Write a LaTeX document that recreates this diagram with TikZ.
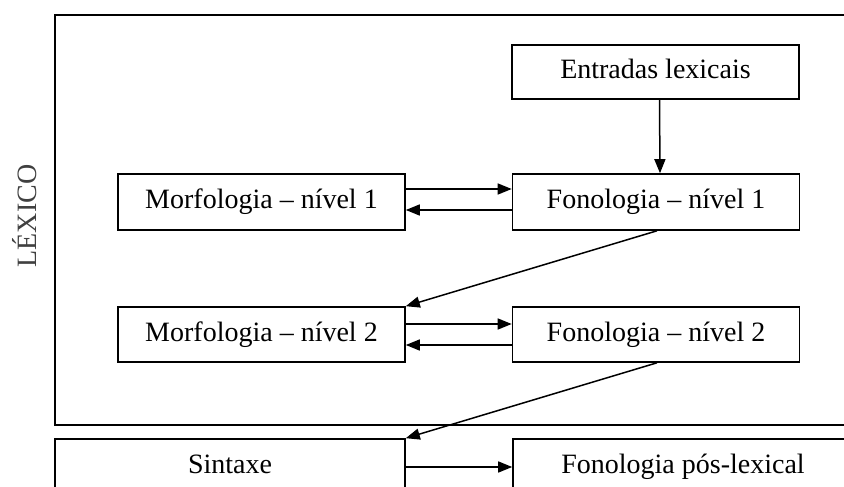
\documentclass[tikz,border=0pt]{standalone}
\usepackage{fontspec}
\setmainfont{Liberation Serif}
\usetikzlibrary{arrows.meta}
\begin{document}
\begin{tikzpicture}[x=1pt,y=-1pt,
  box/.style={draw, line width=1.6pt, minimum width=287pt, minimum height=56pt,
    inner sep=0pt, text height=19pt, text depth=6pt,
    font=\fontsize{28}{32}\selectfont},
  link/.style={line width=1.5pt, -{Triangle[length=14pt,width=11pt]}}]
\useasboundingbox (0,0) rectangle (844,487);
\clip (0,0) rectangle (844,487);
\fill[white] (0,0) rectangle (844,487);

% lexical component frame
\draw[line width=1.6pt] (870,15) -- (55,15) -- (55,425) -- (870,425);
\node[rotate=90, text=black!75, font=\fontsize{28}{32}\selectfont] (lex) at (25,216) {LÉXICO};

% boxes
\node[box, minimum height=54pt] (ent) at (655.5,72) {Entradas lexicais};
\node[box] (m1) at (261.5,202) {Morfologia – nível 1};
\node[box] (f1) at (656,202) {Fonologia – nível 1};
\node[box, minimum height=55pt] (m2) at (261.5,334.5) {Morfologia – nível 2};
\node[box, minimum height=55pt] (f2) at (656,334.5) {Fonologia – nível 2};
\node[box, minimum width=350pt] (sin) at (230,467) {Sintaxe};
\node[box, minimum width=340pt] (pos) at (683,467) {Fonologia pós-lexical};

% connectors
\draw[link] ([xshift=4pt]ent.south) -- ([xshift=4pt]f1.north);
\draw[link] ([yshift=13pt]m1.east) -- ([yshift=13pt]f1.west);
\draw[link] ([yshift=-8pt]f1.west) -- ([yshift=-8pt]m1.east);
\draw[link] ([xshift=1pt]f1.south) -- (m2.north east);
\draw[link] ([yshift=10.5pt]m2.east) -- ([yshift=10.5pt]f2.west);
\draw[link] ([yshift=-10.5pt]f2.west) -- ([yshift=-10.5pt]m2.east);
\draw[link] ([xshift=1pt]f2.south) -- (sin.north east);
\draw[link] (sin.east) -- (pos.west);
\end{tikzpicture}
\end{document}
